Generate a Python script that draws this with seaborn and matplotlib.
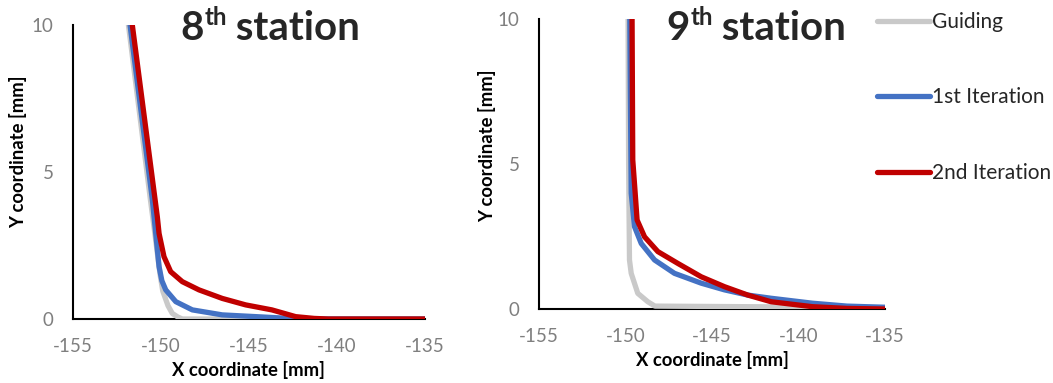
import matplotlib
matplotlib.use("Agg")
import matplotlib.pyplot as plt
import seaborn as sns
import pandas as pd
from matplotlib.lines import Line2D

# ---------------- data ----------------
series_names = ["Guiding", "1st Iteration", "2nd Iteration"]
colors = ["#C9C9C9", "#4472C4", "#C00000"]

# 8th station
guide8_x = [-151.85, -150.6, -150.35, -150.2, -150.05, -149.9, -149.6, -149.36, -149.05, -148.79, -135]
guide8_y = [10, 4.05, 2.91, 2.2, 1.5, 0.95, 0.45, 0.19, 0.07, 0, 0]
iter1_8_x = [-151.76, -150.49, -150.3, -150.11, -149.95, -149.73, -149.16, -148.22, -146.52, -144.6, -142.7, -141.5, -135]
iter1_8_y = [10, 4.05, 2.91, 1.78, 1.3, 0.99, 0.59, 0.31, 0.14, 0.08, 0.02, 0, 0]
iter2_8_x = [-151.63, -150.21, -150.11, -149.83, -149.45, -148.79, -147.84, -146.52, -145.19, -143.7, -142.35, -141.3, -140.5, -135]
iter2_8_y = [10, 3.48, 2.91, 2.12, 1.61, 1.27, 0.99, 0.70, 0.48, 0.31, 0.08, 0.02, 0, 0]

# 9th station
guide9_x = [-149.85, -149.82, -149.77, -149.67, -149.29, -148.71, -148.3, -135]
guide9_y = [10, 5, 1.69, 1.23, 0.54, 0.25, 0.1, 0.05]
iter1_9_x = [-149.75, -149.72, -149.67, -149.48, -149.09, -148.32, -147.17, -145.62, -144.28, -142.93, -141.58, -139.2, -137.2, -135]
iter1_9_y = [10, 7.5, 3.99, 2.84, 2.26, 1.69, 1.23, 0.89, 0.66, 0.48, 0.37, 0.2, 0.1, 0.06]
iter2_9_x = [-149.62, -149.6, -149.58, -149.44, -149.33, -148.9, -148.13, -146.97, -145.62, -144.28, -142.93, -141.58, -139.2, -137.2, -135]
iter2_9_y = [10, 7.5, 5.14, 3.99, 3.07, 2.49, 1.98, 1.57, 1.11, 0.77, 0.48, 0.25, 0.08, 0.02, 0]

x_ticks = [-155, -150, -145, -140, -135]
y_ticks = [0, 5, 10]
station_nums = ["8", "9"]


def make_df(xs, ys):
    frames = []
    for name, x, y in zip(series_names, xs, ys):
        frames.append(pd.DataFrame({"x": x, "y": y, "series": name}))
    return pd.concat(frames, ignore_index=True)


df8 = make_df([guide8_x, iter1_8_x, iter2_8_x], [guide8_y, iter1_8_y, iter2_8_y])
df9 = make_df([guide9_x, iter1_9_x, iter2_9_x], [guide9_y, iter1_9_y, iter2_9_y])

# ---------------- style ----------------
sns.set_theme(style="white")
FONT = "Lato"
plt.rcParams["font.family"] = [FONT, "DejaVu Sans"]

W, H = 1053, 383
fig = plt.figure(figsize=(W / 100, H / 100), dpi=100)


def fx(px):
    return px / W


def fy(py):
    return 1 - py / H


ax1 = fig.add_axes([fx(73), fy(319), fx(425) - fx(73), fy(25) - fy(319)])
ax2 = fig.add_axes([fx(539), fy(309), fx(885) - fx(539), fy(19) - fy(309)])

LW = 3.8
palette = dict(zip(series_names, colors))

for ax, df in [(ax1, df8), (ax2, df9)]:
    sns.lineplot(data=df, x="x", y="y", hue="series", palette=palette, sort=False,
                 estimator=None, linewidth=LW, ax=ax, legend=False, zorder=3)
    for ln in ax.get_lines():
        ln.set_solid_capstyle("round")
        ln.set_solid_joinstyle("round")
    ax.set_xlim(-155, -135)
    ax.set_ylim(0, 10)
    ax.set_xticks(x_ticks)
    ax.set_yticks(y_ticks)
    ax.set_xticklabels([str(t) for t in x_ticks])
    ax.set_yticklabels([str(t) for t in y_ticks])
    ax.tick_params(axis="both", length=0, labelsize=13.5, labelcolor="#7F7F7F")
    ax.tick_params(axis="x", pad=14)
    ax.tick_params(axis="y", pad=14)
    for s in ["top", "right"]:
        ax.spines[s].set_visible(False)
    for s in ["left", "bottom"]:
        ax.spines[s].set_color("black")
        ax.spines[s].set_linewidth(1.5)
    ax.set_xlabel("")
    ax.set_ylabel("")
    ax.patch.set_alpha(0)

# axis labels
lab_kw = dict(fontsize=13.3, fontweight="bold", color="black")
fig.text(fx(18), fy(152), "Y coordinate [mm]", rotation=90, ha="center", va="center", **lab_kw)
fig.text(fx(487), fy(146), "Y coordinate [mm]", rotation=90, ha="center", va="center", **lab_kw)
fig.text(fx(248), fy(370), "X coordinate [mm]", ha="center", va="center", **lab_kw)
fig.text(fx(712), fy(360), "X coordinate [mm]", ha="center", va="center", **lab_kw)

# titles with superscript
renderer = fig.canvas.get_renderer()


def sup_title(xc_px, base_px, num):
    size = 29
    t1 = fig.text(0, fy(base_px), num, fontsize=size, fontweight="bold", va="baseline")
    t2 = fig.text(0, fy(base_px - 15), "th", fontsize=size * 0.6, fontweight="bold", va="baseline")
    t3 = fig.text(0, fy(base_px), " station", fontsize=size, fontweight="bold", va="baseline")
    w1 = t1.get_window_extent(renderer).width
    w2 = t2.get_window_extent(renderer).width
    w3 = t3.get_window_extent(renderer).width
    total = w1 + w2 + w3
    x0 = xc_px - total / 2
    t1.set_x(fx(x0))
    t2.set_x(fx(x0 + w1 + 1))
    t3.set_x(fx(x0 + w1 + w2))


sup_title(270, 40, station_nums[0])
sup_title(756, 40, station_nums[1])

# legend
handles = [Line2D([0], [0], color=c, lw=LW, solid_capstyle="round") for c in colors]
leg = fig.legend(handles, series_names, loc="upper left",
                 bbox_to_anchor=(fx(877), fy(12)), frameon=False,
                 fontsize=15, labelspacing=2.66, handlelength=2.55,
                 handletextpad=0.1, borderaxespad=0, borderpad=0)
for t in leg.get_texts():
    t.set_color("#262626")

fig.savefig("out.png", dpi=100)
